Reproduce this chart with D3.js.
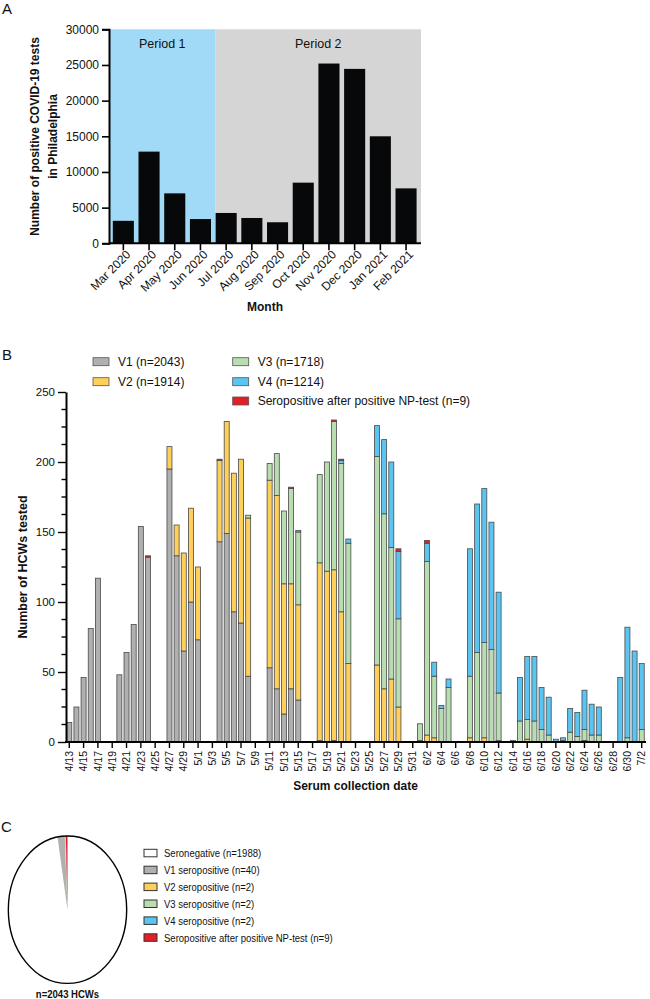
<!DOCTYPE html>
<html><head><meta charset="utf-8">
<script src="https://cdn.jsdelivr.net/npm/d3@7"></script>
<style>
body{margin:0;background:#fff}
svg{display:block}
text{font-family:"Liberation Sans",Arial,Helvetica,sans-serif;fill:#111}
</style>
</head><body>
<svg id="c" width="650" height="999"></svg>
<script>
// ---------- Panel A data ----------
const months = ["Mar 2020","Apr 2020","May 2020","Jun 2020","Jul 2020","Aug 2020","Sep 2020","Oct 2020","Nov 2020","Dec 2020","Jan 2021","Feb 2021"];
const positiveTests = [3150, 12850, 7000, 3400, 4250, 3550, 2950, 8500, 25200, 24450, 15000, 7700];
const periodLabels = ["Period 1", "Period 2"];
const periodStart = ["Mar 2020", "Jul 2020"];
const periodColors = ["#a0daf6", "#d5d5d5"];
const yTicksA = [0, 5000, 10000, 15000, 20000, 25000, 30000];

// ---------- Panel B data ----------
const sampleDates = ["4/13","4/14","4/15","4/16","4/17","4/20","4/21","4/22","4/23","4/24","4/27","4/28","4/29","4/30","5/1","5/4","5/5","5/6","5/7","5/8","5/11","5/12","5/13","5/14","5/15","5/18","5/19","5/20","5/21","5/22","5/26","5/27","5/28","5/29","6/1","6/2","6/3","6/4","6/5","6/8","6/9","6/10","6/11","6/12","6/14","6/15","6/16","6/17","6/18","6/19","6/20","6/21","6/22","6/23","6/24","6/25","6/26","6/29","6/30","7/1","7/2"];
const v1 = [14,25,46,81,117,48,64,84,154,132,195,133,65,100,73,143,149,93,85,47,53,38,20,38,30,1,0,1,0,0,0,0,0,0,0,0,0,0,0,0,0,0,0,0,0,0,0,0,0,0,0,0,0,0,0,0,0,0,0,0,0];
const v2 = [0,0,0,0,0,0,0,0,0,0,16,22,70,67,52,58,80,99,117,113,134,138,93,75,68,127,122,122,93,56,55,38,45,25,1,5,3,0,0,3,0,3,0,1,0,0,2,0,0,0,0,0,0,0,1,0,0,0,0,0,0];
const v3 = [0,0,0,0,0,0,0,0,0,0,0,0,0,0,0,0,0,0,0,2,12,30,52,68,52,63,78,106,106,86,149,125,94,63,12,124,44,24,39,44,64,68,66,34,0,15,14,15,9,5,0,1,7,4,8,5,5,0,3,0,9];
const v4 = [0,0,0,0,0,0,0,0,0,0,0,0,0,0,0,0,0,0,0,0,0,0,0,0,1,0,0,0,2,3,22,53,61,48,0,13,10,2,6,91,106,110,91,72,1,31,45,46,30,27,2,2,17,17,28,22,20,46,79,65,47];
const seroNP = [0,0,0,0,0,0,0,0,0,1,0,0,0,0,0,1,0,0,0,0,0,0,0,1,0,0,0,1,1,0,0,0,0,2,0,2,0,0,0,0,0,0,0,0,0,0,0,0,0,0,0,0,0,0,0,0,0,0,0,0,0];
const seriesKeys = ["v1","v2","v3","v4","np"];
const seriesNames = ["V1 (n=2043)","V2 (n=1914)","V3 (n=1718)","V4 (n=1214)","Seropositive after positive NP-test (n=9)"];
const seriesColors = ["#b0b0b0","#ffcf5c","#b7ddb0","#5bc5f2","#e41e26"];
const xTickLabelsB = ["4/13","4/15","4/17","4/19","4/21","4/23","4/25","4/27","4/29","5/1","5/3","5/5","5/7","5/9","5/11","5/13","5/15","5/17","5/19","5/21","5/23","5/25","5/27","5/29","5/31","6/2","6/4","6/6","6/8","6/10","6/12","6/14","6/16","6/18","6/20","6/22","6/24","6/26","6/28","6/30","7/2"];
const yTicksB = [0, 50, 100, 150, 200, 250];

// ---------- Panel C data ----------
const pieLabels = ["Seronegative (n=1988)","V1 seropositive (n=40)","V2 seropositive (n=2)","V3 seropositive (n=2)","V4 seropositive (n=2)","Seropositive after positive NP-test (n=9)"];
const pieCounts = [1988, 40, 2, 2, 2, 9];
const pieColors = ["#ffffff","#b0b0b0","#ffcf5c","#b7ddb0","#5bc5f2","#e41e26"];

const svg = d3.select("#c");

// ================= PANEL A =================
(function(){
  const g = svg.append("g");
  const x = d3.scaleBand().domain(months).range([110.5, 418.9]).paddingInner(0.18).paddingOuter(0.09);
  const y = d3.scaleLinear().domain([0, 30000]).range([243.3, 29.3]);
  const left = 109, right = 421;
  // period backgrounds
  const bounds = [left, x(periodStart[1]), right];
  periodLabels.forEach((p, i) => {
    g.append("rect").attr("x", bounds[i]).attr("y", y(30000))
      .attr("width", bounds[i+1]-bounds[i]).attr("height", y(0)-y(30000))
      .attr("fill", periodColors[i]);
    g.append("text").attr("x", (bounds[i]+bounds[i+1])/2).attr("y", 48.3)
      .attr("text-anchor","middle").attr("font-size", 12.5).text(p);
  });
  g.selectAll("rect.bar").data(months).join("rect").attr("class","bar")
    .attr("x", d => x(d)).attr("width", x.bandwidth())
    .attr("y", (d,i) => y(positiveTests[i])).attr("height", (d,i) => y(0)-y(positiveTests[i]))
    .attr("fill", "#060809");
  // y axis
  const ya = g.append("g").attr("transform", `translate(${left},0)`)
    .call(d3.axisLeft(y).tickValues(yTicksA).tickSize(7).tickPadding(3).tickFormat(d3.format("d")));
  ya.select(".domain").attr("stroke-width", 2).attr("stroke","#000");
  ya.selectAll(".tick line").attr("stroke-width", 1.6).attr("stroke","#000");
  ya.selectAll("text").attr("font-size", 12).attr("fill","#111");
  // x axis
  const xa = g.append("g").attr("transform", `translate(0,${y(0)})`)
    .call(d3.axisBottom(x).tickSize(7).tickSizeOuter(0));
  xa.select(".domain").attr("d", `M${left},0H${right}`).attr("stroke-width", 2).attr("stroke","#000");
  xa.selectAll(".tick line").attr("stroke-width", 1.6).attr("stroke","#000");
  xa.selectAll("text").attr("font-size", 12).attr("fill","#111")
    .attr("text-anchor","end").attr("transform","translate(5,9) rotate(-45)").attr("dy","0.35em").attr("y",0);
  // titles
  g.append("text").attr("transform","translate(39,136.5) rotate(-90)")
    .attr("text-anchor","middle").attr("font-size",12).attr("font-weight","bold")
    .text("Number of positive COVID-19 tests");
  g.append("text").attr("transform","translate(56.5,136.5) rotate(-90)")
    .attr("text-anchor","middle").attr("font-size",12).attr("font-weight","bold")
    .text("in Philadelphia");
  g.append("text").attr("x", (left+right)/2).attr("y", 311).attr("text-anchor","middle")
    .attr("font-size",12).attr("font-weight","bold").text("Month");
  svg.append("text").attr("x",2).attr("y",14).attr("font-size",15).text("A");
})();

// ================= PANEL B =================
(function(){
  const g = svg.append("g");
  const fmt = d3.timeFormat("%-m/%-d");
  const allDays = d3.timeDay.range(new Date(2020,3,13), new Date(2020,6,3)).map(fmt);
  const x = d3.scaleBand().domain(allDays).range([65.7, 645.3]).paddingInner(0.3).paddingOuter(0.15);
  const y = d3.scaleLinear().domain([0, 250]).range([742, 392]);
  const rows = sampleDates.map((d,i) => ({date:d, v1:v1[i], v2:v2[i], v3:v3[i], v4:v4[i], np:seroNP[i]}));
  const stack = d3.stack().keys(seriesKeys)(rows);
  stack.forEach((layer, li) => {
    g.append("g").selectAll("rect").data(layer.filter(s => s[1]-s[0] > 0)).join("rect")
      .attr("x", s => x(s.data.date)).attr("width", x.bandwidth())
      .attr("y", s => y(s[1])).attr("height", s => y(s[0]) - y(s[1]))
      .attr("fill", seriesColors[li]).attr("stroke", "#4a4a4a").attr("stroke-width", 0.8);
  });
  // y axis with minor ticks
  const minor = d3.range(0, 250.1, 12.5).filter(v => v % 50 !== 0);
  g.append("g").selectAll("line").data(minor).join("line")
    .attr("x1", 61.5).attr("x2", 66).attr("y1", d => y(d)).attr("y2", d => y(d))
    .attr("stroke","#000").attr("stroke-width",1.4);
  const ya = g.append("g").attr("transform","translate(66,0)")
    .call(d3.axisLeft(y).tickValues(yTicksB).tickSize(8).tickPadding(3).tickSizeOuter(0));
  ya.select(".domain").attr("stroke-width", 2).attr("stroke","#000");
  ya.selectAll(".tick line").attr("stroke-width", 1.4).attr("stroke","#000");
  ya.selectAll("text").attr("font-size", 11.5).attr("fill","#111");
  // x axis
  const xa = g.append("g").attr("transform", `translate(0,${y(0)})`)
    .call(d3.axisBottom(x).tickValues(xTickLabelsB).tickSize(6).tickSizeOuter(0));
  xa.select(".domain").attr("d", "M65,0H646").attr("stroke-width", 2).attr("stroke","#000");
  xa.selectAll(".tick line").attr("stroke-width", 1.4).attr("stroke","#000");
  xa.selectAll("text").attr("font-size", 10.5).attr("fill","#111")
    .attr("text-anchor","end").attr("y",0).attr("dy","0.35em")
    .attr("transform","translate(0,9) rotate(-90)");
  g.append("text").attr("transform","translate(26.5,567) rotate(-90)")
    .attr("text-anchor","middle").attr("font-size",12.5).attr("font-weight","bold")
    .text("Number of HCWs tested");
  g.append("text").attr("x", 355.5).attr("y", 790).attr("text-anchor","middle")
    .attr("font-size",12).attr("font-weight","bold").text("Serum collection date");
  // legend
  const pos = [[93,361.7],[93,381.7],[232.7,361.7],[232.7,381.7],[232.7,401]];
  seriesNames.forEach((n,i) => {
    const [lx, ly] = pos[i];
    g.append("rect").attr("x", lx).attr("y", ly-4).attr("width", 16).attr("height", 8)
      .attr("fill", seriesColors[i]).attr("stroke", "#555").attr("stroke-width", 0.8);
    g.append("text").attr("x", lx+25).attr("y", ly).attr("dy","0.36em").attr("font-size", 12).text(n);
  });
  svg.append("text").attr("x",2).attr("y",360).attr("font-size",15).text("B");
})();

// ================= PANEL C =================
(function(){
  const g = svg.append("g");
  const cx = 67.5, cy = 909.7, r = 73.7, sx = 0.803;
  const pie = d3.pie().sort(null).value(d => d).startAngle(0).endAngle(2*Math.PI)(pieCounts);
  const arc = d3.arc().innerRadius(0).outerRadius(r);
  const pg = g.append("g").attr("transform", `translate(${cx},${cy}) scale(${sx},1)`);
  pg.selectAll("path").data(pie).join("path").attr("d", arc).attr("fill", (d,i) => pieColors[i]);
  pg.append("circle").attr("r", r).attr("fill","none").attr("stroke","#000").attr("stroke-width",1.4)
    .attr("vector-effect","non-scaling-stroke");
  g.append("text").attr("transform", `translate(${cx},997.5) scale(0.83,1)`).attr("text-anchor","middle")
    .attr("font-size",11.5).attr("font-weight","bold").text("n=2043 HCWs");
  pieLabels.forEach((n,i) => {
    const ly = 853 + i*16.9;
    g.append("rect").attr("x",144).attr("y",ly-3.7).attr("width",13).attr("height",7.5)
      .attr("fill", pieColors[i]).attr("stroke","#333").attr("stroke-width",1);
    g.append("text").attr("transform", `translate(164,${ly}) scale(0.83,1)`).attr("dy","0.36em")
      .attr("font-size",11.5).text(n);
  });
  svg.append("text").attr("x",1).attr("y",832).attr("font-size",15).text("C");
})();
</script>
</body></html>
